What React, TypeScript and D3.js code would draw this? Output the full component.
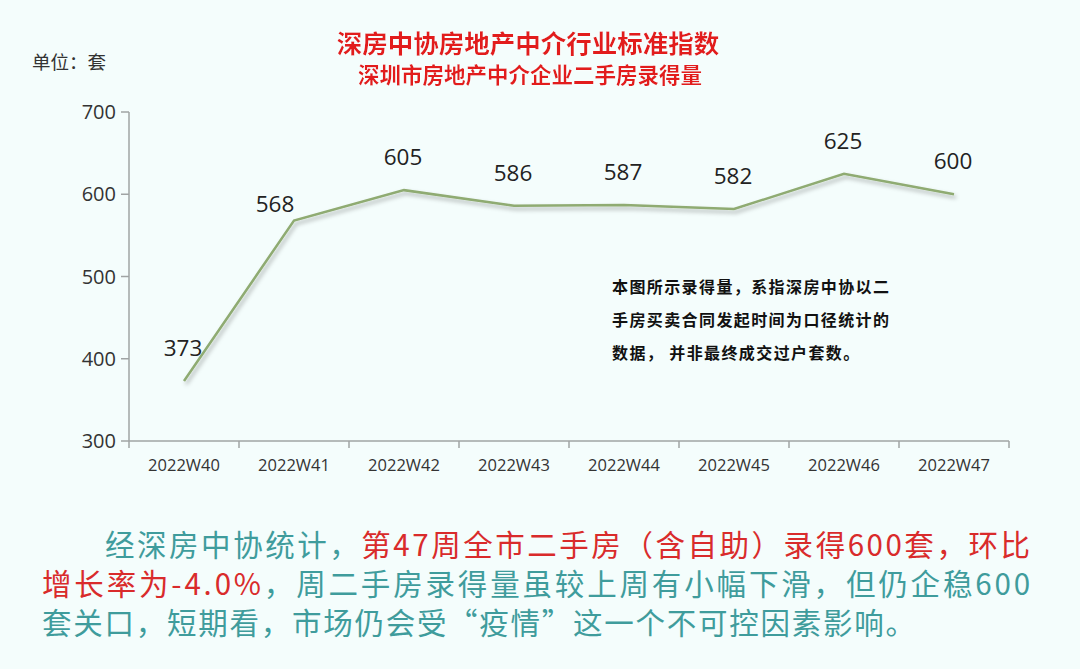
import React from 'react';
import * as d3 from 'd3';

const weeks = ['2022W40', '2022W41', '2022W42', '2022W43', '2022W44', '2022W45', '2022W46', '2022W47'];
const records = [373, 568, 605, 586, 587, 582, 625, 600];
const yTicks = [300, 400, 500, 600, 700];

const titleText = '深房中协房地产中介行业标准指数';
const subtitleText = '深圳市房地产中介企业二手房录得量';
const unitText = '单位：套';
const noteLines = ['本图所示录得量，系指深房中协以二', '手房买卖合同发起时间为口径统计的', '数据， 并非最终成交过户套数。'];
// paragraph segments: [text, colorKey]
const paraLines: [string, string][][] = [
  [['经深房中协统计，', 'teal'], ['第47周全市二手房（含自助）录得600套，环比', 'red']],
  [['增长率为-4.0%', 'red'], ['，周二手房录得量虽较上周有小幅下滑，但仍企稳600', 'teal']],
  [['套关口，短期看，市场仍会受“疫情”这一个不可控因素影响。', 'teal']],
];

const W = 1080, H = 669;
const CJK = '"Noto Sans CJK SC", "Noto Sans", sans-serif';
const LAT = '"Open Sans", "Noto Sans", sans-serif';

export default function App() {
  React.useEffect(() => {
    document.body.style.margin = '0';
  }, []);
  const x = d3.scaleBand<string>().domain(weeks).range([129, 1009]);
  const y = d3.scaleLinear().domain([300, 700]).range([441, 112]);
  const cx = (w: string) => (x(w) as number) + x.bandwidth() / 2;
  const pts = weeks.map((w, i) => [cx(w), y(records[i])] as [number, number]);
  const line = d3.line();
  const colors: Record<string, string> = { teal: '#3f9c9c', red: '#d92b2b' };
  const paraX = [105, 42, 42];
  const paraY = [556, 595, 634];
  const paraLen = [925, 988, 873];
  const boundaries = weeks.map((w) => x(w) as number).concat([1009]);
  return (
    <svg width={W} height={H} style={{ display: 'block' }}>
      <defs>
        <filter id="sh" x="-10%" y="-10%" width="120%" height="130%">
          <feDropShadow dx="2" dy="3" stdDeviation="2" floodColor="#000" floodOpacity="0.3" />
        </filter>
        <filter id="glow" x="-5%" y="-20%" width="110%" height="140%">
          <feDropShadow dx="0" dy="0" stdDeviation="1.2" floodColor="#ffffff" floodOpacity="1" />
        </filter>
      </defs>
      <rect width={W} height={H} fill="#f4fdfc" />
      <text x={528} y={53} textAnchor="middle" fontFamily={CJK} fontWeight={700} fontSize={25.5} fill="#e21f1f" filter="url(#glow)">{titleText}</text>
      <text x={530} y={83} textAnchor="middle" fontFamily={CJK} fontWeight={700} fontSize={21.5} fill="#e21f1f" filter="url(#glow)">{subtitleText}</text>
      <text x={32} y={69} fontFamily={CJK} fontSize={18.5} fill="#333">{unitText}</text>

      {/* y axis */}
      <line x1={129} x2={129} y1={y(700)} y2={y(300)} stroke="#a0a4a4" strokeWidth={1.5} />
      {yTicks.map((t) => (
        <g key={t}>
          <line x1={121} x2={129} y1={y(t)} y2={y(t)} stroke="#a0a4a4" strokeWidth={1.5} />
          <text x={116} y={y(t) + 7} textAnchor="end" fontFamily={LAT} fontSize={20} fill="#333">{t}</text>
        </g>
      ))}
      {/* x axis */}
      <line x1={129} x2={1009} y1={y(300)} y2={y(300)} stroke="#a0a4a4" strokeWidth={1.5} />
      {boundaries.map((b, i) => (
        <line key={i} x1={b} x2={b} y1={y(300)} y2={y(300) + 7} stroke="#a0a4a4" strokeWidth={1.5} />
      ))}
      {weeks.map((w) => (
        <text key={w} x={cx(w)} y={471} textAnchor="middle" fontFamily={LAT} fontSize={16.5} fill="#333">{w}</text>
      ))}

      <path d={line(pts) || ''} fill="none" stroke="#8fab72" strokeWidth={2.5} filter="url(#sh)" />
      {weeks.map((w, i) => {
        const special = i === 1;
        return (
          <text key={w} x={cx(w) + (special ? -19 : -1)} y={y(records[i]) - (special ? 9 : 25)} textAnchor="middle" fontFamily={LAT} fontSize={22.5} fill="#222">
            {records[i]}
          </text>
        );
      })}

      {noteLines.map((l, i) => (
        <text key={i} x={612} y={293 + i * 33} fontFamily={CJK} fontWeight={700} fontSize={16} letterSpacing={1.4} fill="#111">{l}</text>
      ))}

      {paraLines.map((segs, i) => (
        <text key={i} x={paraX[i]} y={paraY[i]} fontFamily={CJK} fontSize={29.5} textLength={paraLen[i]} lengthAdjust="spacing">
          {segs.map(([t, c], j) => (
            <tspan key={j} fill={colors[c]}>{t}</tspan>
          ))}
        </text>
      ))}
    </svg>
  );
}
